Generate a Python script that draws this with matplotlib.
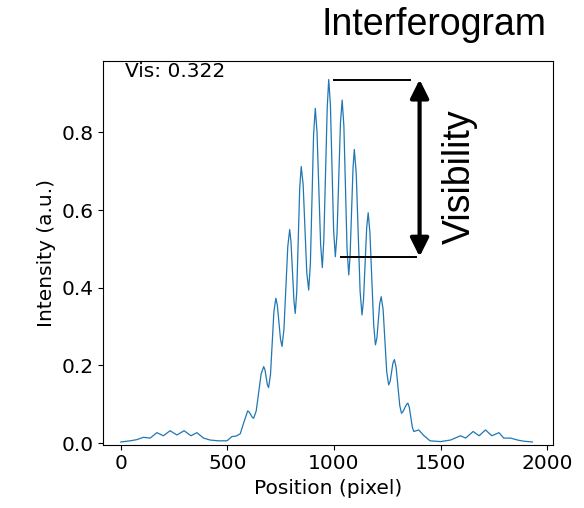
import matplotlib
matplotlib.use("Agg")
import matplotlib.pyplot as plt
from matplotlib.lines import Line2D

# Values (fringe peaks, troughs and slopes)
position = [0, 44, 75, 106, 138, 169, 200, 231, 263, 297, 329, 357, 388, 419,
            458, 498, 521, 540, 560, 575,
            595, 602, 616, 623, 635, 658, 670, 676, 687, 693, 702, 718,
            727, 734, 749, 756, 765, 783, 792, 798, 812, 818, 825, 839,
            846, 855, 872, 881, 889, 904, 912, 920, 937, 945, 952, 968,
            975, 983, 998, 1006, 1014, 1030, 1038, 1046, 1061, 1069, 1075, 1089,
            1095, 1104, 1122, 1131, 1138, 1153, 1160, 1168, 1186, 1194, 1201, 1214,
            1221, 1230, 1247, 1256, 1263, 1276, 1283, 1291, 1308, 1316, 1323, 1339,
            1346, 1353, 1367, 1374,
            1397, 1420, 1450, 1499, 1546, 1593, 1617, 1652, 1680, 1710, 1740,
            1773, 1796, 1828, 1860, 1890, 1930]
intensity = [0.003, 0.006, 0.009, 0.015, 0.013, 0.027, 0.019, 0.032, 0.021,
             0.032, 0.019, 0.027, 0.013, 0.008, 0.006, 0.006, 0.017, 0.018,
             0.024, 0.050,
             0.083, 0.080, 0.067, 0.064, 0.083, 0.178, 0.197, 0.189, 0.151, 0.143, 0.177, 0.339,
             0.373, 0.355, 0.267, 0.249, 0.293, 0.506, 0.550, 0.518, 0.366, 0.334, 0.389, 0.657,
             0.712, 0.666, 0.440, 0.394, 0.462, 0.794, 0.862, 0.802, 0.512, 0.452, 0.523, 0.865,
             0.936, 0.869, 0.547, 0.480, 0.539, 0.824, 0.883, 0.817, 0.499, 0.433, 0.480, 0.709,
             0.756, 0.694, 0.392, 0.330, 0.368, 0.555, 0.593, 0.543, 0.303, 0.253, 0.271, 0.359,
             0.377, 0.344, 0.183, 0.150, 0.159, 0.206, 0.215, 0.195, 0.097, 0.077, 0.081, 0.099,
             0.103, 0.092, 0.041, 0.030,
             0.034, 0.020, 0.006, 0.004, 0.008, 0.019, 0.013, 0.030, 0.019, 0.034, 0.019,
             0.027, 0.013, 0.013, 0.008, 0.005, 0.003]

i_max = intensity.index(max(intensity))
y_max = intensity[i_max]
y_min = min(intensity[i_max:i_max + 5])

fig = plt.figure(figsize=(5.84, 5.08), dpi=100)
ax = fig.add_axes([103.3 / 584, 1 - 444.7 / 508, 450 / 584, 384.2 / 508])

ax.plot(position, intensity, color="#1f77b4", lw=0.9)
ax.set_xlim(-82, 2028)
ax.set_ylim(-0.004, 0.985)
ax.set_xticks([0, 500, 1000, 1500, 2000])
ax.set_yticks([0.0, 0.2, 0.4, 0.6, 0.8])
ax.tick_params(labelsize=14.5)
ax.set_xlabel("Position (pixel)", fontsize=14.5)
ax.set_ylabel("Intensity (a.u.)", fontsize=14.5)
ax.text(0.048, 0.995, "Vis: 0.322", transform=ax.transAxes, fontsize=14.5,
        va="top", ha="left")

# visibility markers
ax.add_line(Line2D([1002, 1354], [y_max, y_max], color="k", lw=1.4, clip_on=False))
ax.add_line(Line2D([1034, 1386], [y_min, y_min], color="k", lw=1.4, clip_on=False))
ax.annotate("", xy=(1401, y_max), xytext=(1401, y_min), annotation_clip=False,
            arrowprops=dict(arrowstyle="<|-|>,head_length=1.1,head_width=0.55",
                            mutation_scale=10, lw=3, color="k",
                            shrinkA=0, shrinkB=0))

fig.text(321.7 / 584, 1 - 35 / 508, "Interferogram", family="Liberation Sans",
         fontsize=27, ha="left", va="baseline")
fig.text(460 / 584, 1 - 177 / 508, "Visibility", family="Liberation Sans",
         fontsize=27, rotation=90, ha="center", va="center")

fig.savefig("out.png", dpi=100)
